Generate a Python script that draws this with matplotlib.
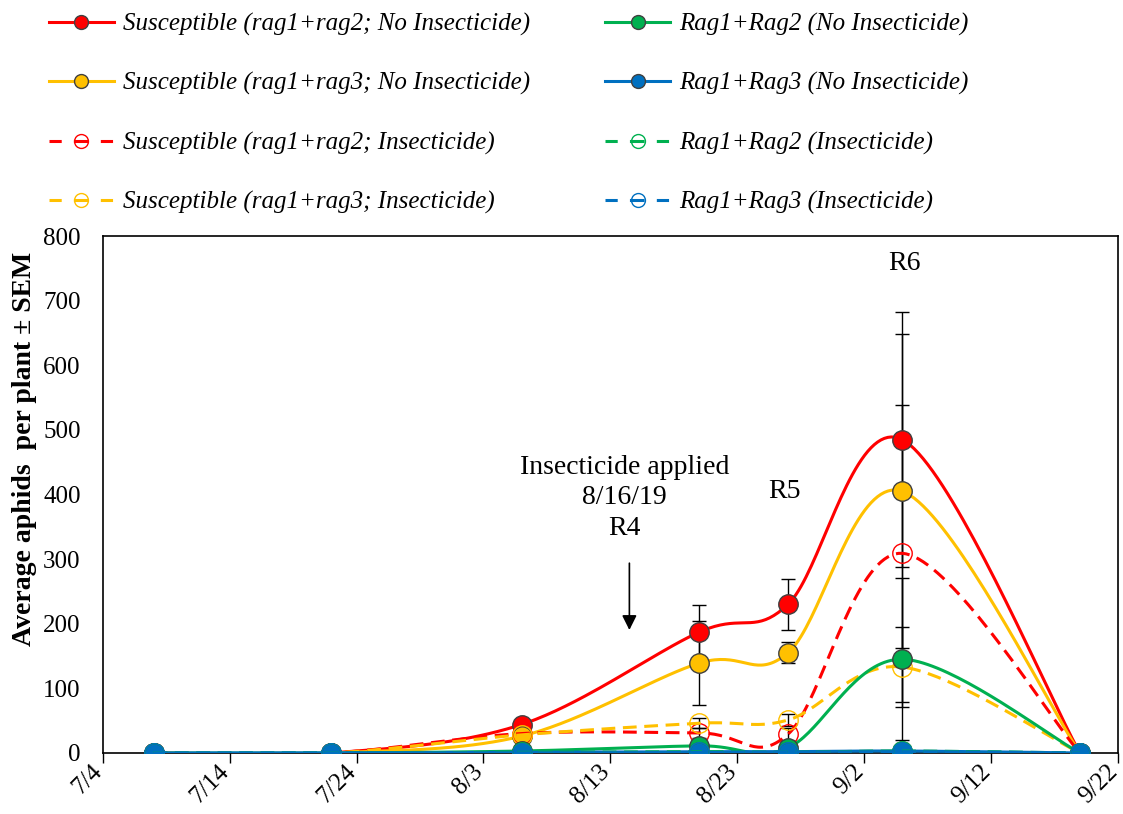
import numpy as np
import matplotlib
matplotlib.use("Agg")
import matplotlib.pyplot as plt
import matplotlib.dates as mdates
import matplotlib.transforms as mtransforms
from matplotlib.lines import Line2D
import datetime as dt

plt.rcParams['font.family'] = ['Liberation Serif', 'DejaVu Serif']

# sampling dates (2019)
dates = [dt.date(2019, 7, 8), dt.date(2019, 7, 22), dt.date(2019, 8, 6),
         dt.date(2019, 8, 20), dt.date(2019, 8, 27), dt.date(2019, 9, 5),
         dt.date(2019, 9, 19)]

# average aphids per plant
sus12_noins = [0, 0, 44, 187, 230, 485, 0]
sus13_noins = [0, 0, 26, 139, 155, 405, 0]
sus12_ins = [0, 0, 30, 31, 29, 309, 0]
sus13_ins = [0, 0, 28, 46, 51, 133, 0]
rag12_noins = [0, 0, 3, 11, 8, 145, 0]
rag13_noins = [0, 0, 1, 2, 2, 3, 0]
rag12_ins = [0, 0, 1, 2, 1, 3, 0]
rag13_ins = [0, 0, 0, 1, 1, 2, 0]

# SEM
sus12_noins_err = [0, 0, 5, 42, 39, 197, 0]
sus13_noins_err = [0, 0, 4, 65, 16, 243, 0]
sus12_ins_err = [0, 0, 3, 8, 10, 230, 0]
sus13_ins_err = [0, 0, 3, 8, 9, 62, 0]
rag12_noins_err = [0, 0, 1, 5, 5, 125, 0]
rag13_noins_err = [0, 0, 0.5, 1, 1, 2, 0]
rag12_ins_err = [0, 0, 0.5, 1, 1, 2, 0]
rag13_ins_err = [0, 0, 0.5, 1, 1, 2, 0]

labels = ['Susceptible (rag1+rag2; No Insecticide)',
          'Susceptible (rag1+rag3; No Insecticide)',
          'Susceptible (rag1+rag2; Insecticide)',
          'Susceptible (rag1+rag3; Insecticide)',
          'Rag1+Rag2 (No Insecticide)',
          'Rag1+Rag3 (No Insecticide)',
          'Rag1+Rag2 (Insecticide)',
          'Rag1+Rag3 (Insecticide)']

RED, YEL, GRN, BLU = '#FF0000', '#FFC000', '#00B050', '#0070C0'

series = [
    (sus12_noins, sus12_noins_err, RED, False),
    (sus13_noins, sus13_noins_err, YEL, False),
    (sus12_ins, sus12_ins_err, RED, True),
    (sus13_ins, sus13_ins_err, YEL, True),
    (rag12_noins, rag12_noins_err, GRN, False),
    (rag13_noins, rag13_noins_err, BLU, False),
    (rag12_ins, rag12_ins_err, GRN, True),
    (rag13_ins, rag13_ins_err, BLU, True),
]


def smooth(x, y, n=40):
    # Excel-like smoothed line: Catmull-Rom segments as cubic Bezier
    p = np.column_stack([x, y]).astype(float)
    m = len(p)
    out = []
    t = np.linspace(0, 1, n)[:, None]
    for i in range(m - 1):
        p0 = p[max(i - 1, 0)]
        p1, p2 = p[i], p[i + 1]
        p3 = p[min(i + 2, m - 1)]
        c1 = p1 + (p2 - p0) / 6
        c2 = p2 - (p3 - p1) / 6
        seg = ((1 - t) ** 3) * p1 + 3 * ((1 - t) ** 2) * t * c1 + 3 * (1 - t) * t ** 2 * c2 + t ** 3 * p2
        out.append(seg if i == 0 else seg[1:])
    out = np.vstack(out)
    return out[:, 0], out[:, 1]


fig = plt.figure(figsize=(11.23, 8.14), dpi=100)
ax = fig.add_axes([0.0915, 0.075, 0.904, 0.635])

xnum = mdates.date2num(dates)
LW = 2.2
dash_plot = (0, (4.5, 2.5))

for i, (vals, errs, col, dashed) in enumerate(series):
    z = 3 + i
    ax.errorbar(xnum, vals, yerr=errs, fmt='none', ecolor='black',
                elinewidth=1, capsize=5, capthick=1, zorder=2)
    sx, sy = smooth(xnum, vals)
    ax.plot(sx, sy, color=col, lw=LW, ls=dash_plot if dashed else '-',
            zorder=z, solid_capstyle='round')
    if dashed:
        ax.plot(xnum, vals, ls='none', marker='o', ms=14, mfc='none',
                mec=col, mew=1, zorder=z)
    else:
        ax.plot(xnum, vals, ls='none', marker='o', ms=14, mfc=col,
                mec='#404040', mew=1, zorder=z)

ax.set_ylim(0, 800)
ax.set_yticks(range(0, 801, 100))
ax.set_xlim(mdates.date2num(dt.date(2019, 7, 4)), mdates.date2num(dt.date(2019, 9, 22)))
xt = [dt.date(2019, 7, 4) + dt.timedelta(days=10 * k) for k in range(9)]
ax.set_xticks(mdates.date2num(xt))
ax.set_xticklabels([f'{d.month}/{d.day}' for d in xt], rotation=45,
                   ha='right', va='center', rotation_mode='anchor')
ax.tick_params(axis='x', direction='out', length=7, width=1, labelsize=18, pad=4)
ax.tick_params(axis='y', length=0, labelsize=18, pad=16)
shift = mtransforms.ScaledTranslation(-4 / 100, 0, fig.dpi_scale_trans)
for lab in ax.get_xticklabels():
    lab.set_transform(lab.get_transform() + shift)
for s in ax.spines.values():
    s.set_linewidth(1.2)
    s.set_color('black')

# y label, sits a bit above the axes centre like the original
fig.text(0.022, 1 - 449 / 814, 'Average aphids  per plant \u00b1 SEM', rotation=90,
         ha='center', va='center', fontsize=20, fontweight='bold')

# annotations
d2n = lambda m, d: mdates.date2num(dt.date(2019, m, d))
ax.text(d2n(8, 14) + 0.1, 395, 'Insecticide applied\n8/16/19\nR4', ha='center', va='center',
        fontsize=20, linespacing=1.3)
ax.annotate('', xy=(d2n(8, 14) + 0.5, 186), xytext=(d2n(8, 14) + 0.5, 298),
            arrowprops=dict(arrowstyle='-|>', color='black', lw=1.2, mutation_scale=22))
ax.text(d2n(8, 26) + 0.7, 404, 'R5', ha='center', va='center', fontsize=20)
ax.text(d2n(9, 5) + 0.2, 757, 'R6', ha='center', va='center', fontsize=20)

# legend
handles = []
for vals, errs, col, dashed in series:
    if dashed:
        h = Line2D([], [], color=col, lw=LW, ls=(0, (4.0, 4.0, 4.8, 4.0, 4.0, 10)),
                   marker='o', ms=10, mfc='none', mec=col, mew=1)
    else:
        h = Line2D([], [], color=col, lw=LW, marker='o', ms=10, mfc=col,
                   mec='#404040', mew=1)
    handles.append(h)

leg = fig.legend(handles, labels, ncol=2, loc='upper left', bbox_to_anchor=(0.028, 1.006),
                 frameon=False, prop={'style': 'italic', 'size': 18},
                 handlelength=2.6, handletextpad=0.36, columnspacing=3.0,
                 labelspacing=1.46, borderaxespad=0.3)

fig.savefig('out.png', dpi=100)
